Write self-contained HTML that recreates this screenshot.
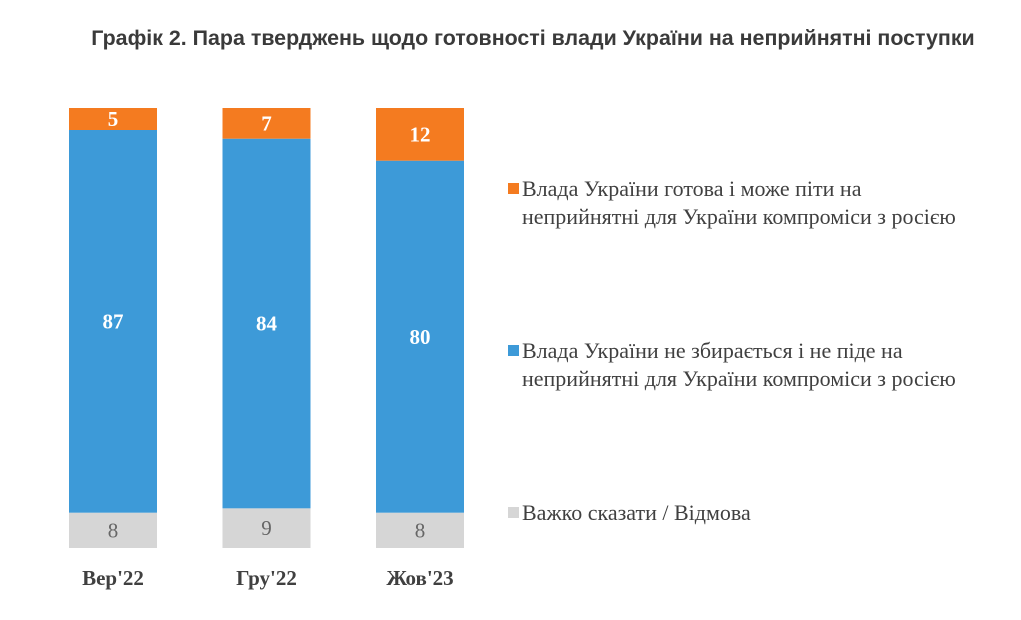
<!DOCTYPE html>
<html><head><meta charset="utf-8"><style>
body{margin:0;background:#fff;width:1021px;height:620px;overflow:hidden}
svg{display:block}
</style></head><body>
<svg id="chart" width="1021" height="620" xmlns="http://www.w3.org/2000/svg">
<text x="533" y="45" text-anchor="middle" font-family="Liberation Sans, sans-serif" font-weight="bold" font-size="21.4" fill="#3a3a3a">Графік 2. Пара тверджень щодо готовності влади України на неприйнятні поступки</text>
<g id="bars"></g>
<g id="legend" font-family="Liberation Serif, serif" font-size="22" fill="#404040">
<rect x="508" y="183" width="11" height="11" fill="#f47b20"/>
<text x="522" y="196">Влада України готова і може піти на</text>
<text x="522" y="224">неприйнятні для України компроміси з росією</text>
<rect x="508" y="345" width="11" height="11" fill="#3d9ad8"/>
<text x="522" y="358">Влада України не збирається і не піде на</text>
<text x="522" y="386">неприйнятні для України компроміси з росією</text>
<rect x="508" y="507" width="11" height="11" fill="#d6d6d6"/>
<text x="522" y="520">Важко сказати / Відмова</text>
</g>
</svg>
<script>
const categories = ["Вер'22", "Гру'22", "Жов'23"];
const readyValues = [5, 7, 12];
const notReadyValues = [87, 84, 80];
const hardValues = [8, 9, 8];

const NS = "http://www.w3.org/2000/svg";
const g = document.getElementById('bars');
const top0 = 108, bottom0 = 548;
const totalOf = i => readyValues[i] + notReadyValues[i] + hardValues[i];
function yScale(v, i){ return top0 + v / totalOf(i) * (bottom0 - top0); }
function xScale(i){ return 69 + i * 153.5; }
const barW = 88;

function seg(i, from, val, color, name, textColor, bold){
  const y1 = yScale(from, i), y2 = yScale(from + val, i);
  const r = document.createElementNS(NS, 'rect');
  r.setAttribute('x', xScale(i)); r.setAttribute('y', y1);
  r.setAttribute('width', barW); r.setAttribute('height', y2 - y1);
  r.setAttribute('fill', color);
  
  
  g.appendChild(r);
  const t = document.createElementNS(NS, 'text');
  t.setAttribute('x', xScale(i) + barW / 2); t.setAttribute('y', (y1 + y2) / 2 + 7);
  t.setAttribute('text-anchor', 'middle');
  t.setAttribute('font-family', 'Liberation Serif, serif');
  t.setAttribute('font-size', '21');
  if (bold) t.setAttribute('font-weight', 'bold');
  t.setAttribute('fill', textColor);
  t.textContent = val;
  
  
  g.appendChild(t);
}
categories.forEach((c, i) => {
  seg(i, 0, readyValues[i], '#f47b20', 'bar-ready-' + i, '#fff', true);
  seg(i, readyValues[i], notReadyValues[i], '#3d9ad8', 'bar-not-ready-' + i, '#fff', true);
  seg(i, readyValues[i] + notReadyValues[i], hardValues[i], '#d6d6d6', 'bar-hard-to-say-' + i, '#666', false);
  const t = document.createElementNS(NS, 'text');
  t.setAttribute('x', xScale(i) + barW / 2); t.setAttribute('y', 585);
  t.setAttribute('text-anchor', 'middle');
  t.setAttribute('font-family', 'Liberation Serif, serif');
  t.setAttribute('font-size', '21');
  t.setAttribute('font-weight', 'bold');
  t.setAttribute('fill', '#404040');
  t.textContent = c;
  
  
  g.appendChild(t);
});
</script>
</body></html>
